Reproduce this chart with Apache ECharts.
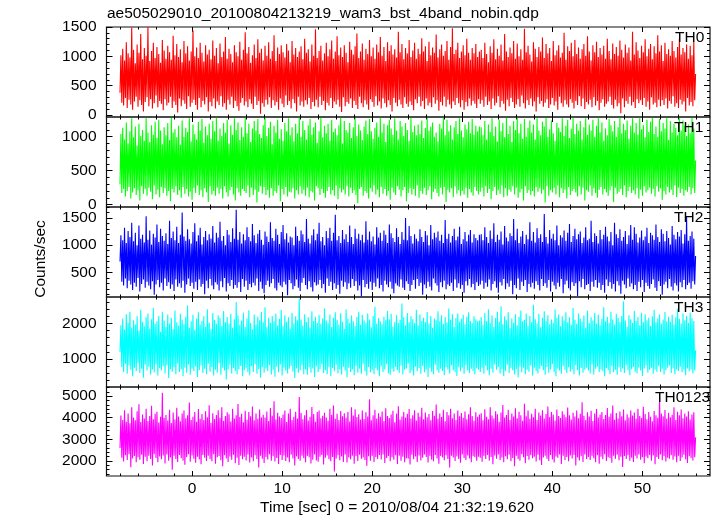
<!DOCTYPE html>
<html>
<head>
<meta charset="utf-8">
<script src="https://cdn.jsdelivr.net/npm/echarts@6.0.0/dist/echarts.min.js"></script>
<style>
html,body{margin:0;padding:0;background:#fff;}
#chart{width:717px;height:516px;}
</style>
</head>
<body>
<div id="chart"></div>
<script>
// ---------- data ----------
const titleText = 'ae505029010_20100804213219_wam3_bst_4band_nobin.qdp';
const xTitle = 'Time [sec] 0 = 2010/08/04 21:32:19.620';
const yTitle = 'Counts/sec';
const bandNames = ['TH0', 'TH1', 'TH2', 'TH3', 'TH0123'];
const timeStart = -8.0;   // first bin [sec]
const timeStep = 0.1;     // bin width [sec]
const xTicks = [0, 10, 20, 30, 40, 50];
const yTicksTH0 = [0, 500, 1000, 1500];
const yTicksTH1 = [0, 500, 1000];
const yTicksTH2 = [500, 1000, 1500];
const yTicksTH3 = [1000, 2000];
const yTicksTH0123 = [2000, 3000, 4000, 5000];

const th0 = [
380,1020,210,1130,160,930,290,1240,120,1050,
260,980,180,1490,90,1110,230,880,310,1200,
140,1060,250,1380,170,950,60,1140,220,1010,
300,1500,150,920,270,1090,110,1230,200,970,
330,1160,130,1040,240,890,190,1280,80,1100,
270,960,160,1180,210,1070,310,940,120,1350,
230,1020,170,1210,40,990,280,1120,150,900,
250,1260,190,1050,100,1170,320,930,140,1080,
210,1440,260,1000,170,1150,90,970,290,1230,
130,1060,240,910,180,1190,300,1030,60,1110,
220,950,150,1270,280,1010,110,1140,230,880,
170,1220,320,990,140,1080,200,1330,90,960,
260,1130,180,1040,310,900,120,1190,240,1070,
150,1000,70,1250,210,940,290,1110,160,1410,
230,1050,130,1160,270,890,190,1020,100,1200,
310,970,170,1290,240,1060,20,1130,200,930,
140,1180,260,1010,180,1240,300,960,120,1090,
250,1360,160,920,220,1150,90,1040,280,1190,
190,1070,130,980,330,1210,170,1100,240,900,
110,1260,270,1030,200,1140,60,990,310,1080,
160,1170,230,950,140,1300,250,1060,180,1120,
290,910,100,1200,220,1010,150,1460,260,970,
130,1090,310,1180,170,930,240,1050,80,1230,
210,1000,160,1120,290,1270,120,960,230,1080,
180,1340,260,1020,140,1150,50,990,300,1190,
150,1060,220,900,190,1250,280,1110,120,1030,
240,1170,170,1390,100,970,310,1080,200,1220,
130,940,250,1130,180,1040,90,1280,270,1000,
220,1150,140,960,320,1200,160,1070,230,1330,
110,1010,280,1160,200,920,130,1240,250,1090,
170,1190,60,1030,290,1120,210,980,150,1420,
260,1070,180,1210,120,950,300,1140,190,1050,
140,1280,230,990,170,1100,80,1230,270,960,
200,1130,310,1040,150,1310,240,1080,100,1170,
280,920,160,1250,210,1020,130,1150,300,1060,
190,1370,250,980,70,1120,220,1200,160,1010,
310,1090,140,1260,260,940,180,1160,110,1480,
230,1040,170,1110,290,1230,200,970,130,1080,
250,1190,90,1020,220,1300,150,1060,280,940,
160,1140,240,1050,190,1210,120,990,270,1080,
190,1110,250,970,140,1230,310,1040,170,900,
230,1170,100,1060,280,1290,160,950,210,1130,
320,1010,130,1200,240,930,190,1380,70,1080,
260,990,150,1150,290,1050,220,1260,120,960,
180,1220,270,1000,140,1120,330,940,200,1470,
110,1070,250,1180,170,1030,280,910,150,1240,
230,1130,60,990,300,1160,190,1080,240,1320,
140,970,210,1210,270,1050,120,1140,180,920,
290,1260,160,1020,230,1100,90,1190,310,980,
200,1060,140,1400,250,940,180,1170,130,1090,
270,1230,210,1000,110,1280,240,1040,170,1150,
320,960,150,1120,280,1210,100,1010,220,1340,
180,1080,260,930,130,1190,300,1070,160,1250,
240,990,80,1140,210,1030,270,1180,140,960,
190,1300,230,1090,310,950,170,1220,110,1040,
260,1160,150,1010,200,1270,30,1110,280,980,
130,1200,240,1060,190,1150,310,930,160,1420,
220,1030,120,1240,270,1100,200,970,250,1180,
170,1070,290,1290,140,1000,230,1130,90,1210,
300,950,180,1170,210,1050,130,1360,260,1080,
150,1190,250,920,170,1230,280,1040,110,1120,
240,1010,190,1260,320,1090,140,980,200,1160,
120,1310,260,1030,180,1140,230,1070,60,1200,
290,960,160,1180,220,1020,150,1250,250,700
];
const th1 = [
300,1040,170,1130,230,960,120,1210,200,900,
260,1080,90,1270,180,990,240,1150,140,870,
210,1190,60,1010,270,1100,160,940,230,1280,
130,1060,250,920,190,1170,80,1030,280,1220,
150,980,220,1250,110,1090,260,890,170,1140,
240,1020,130,1200,200,950,50,1280,230,1060,
180,1110,270,990,140,1160,210,880,100,1240,
260,1000,160,1130,230,1070,120,1270,190,930,
70,1180,250,1040,170,960,280,1220,140,1090,
210,1260,110,910,240,1150,180,1020,40,1190,
270,970,150,1230,200,1080,130,1280,250,940,
160,1120,230,1010,90,1200,270,1060,180,1250,
120,900,210,1170,260,1030,150,1270,60,1100,
240,1210,180,950,130,1140,230,1000,200,1280,
170,1050,280,1190,110,920,250,1120,140,1230,
220,1090,30,1260,190,1040,270,980,160,1170,
260,1280,140,1010,210,1130,100,1220,240,890,
130,1160,200,1060,170,1250,280,970,50,1110,
230,940,150,1200,260,1080,120,1270,190,1020,
180,1140,240,930,90,1190,210,1050,150,1280,
270,1000,160,1230,220,1100,130,960,250,1170,
110,1260,200,1030,180,1140,60,1210,270,910,
240,1080,140,1280,230,990,170,1160,100,1050,
200,1190,260,940,150,1250,210,1070,130,1120,
280,1020,80,1170,240,1280,180,900,220,1230,
150,1100,270,1060,120,1200,250,980,170,1140,
210,1270,140,1010,20,1180,230,1090,260,950,
130,1150,200,1240,170,1040,90,1260,240,1080,
190,970,280,1130,150,1210,220,1000,110,1280,
260,1060,160,1190,230,920,130,1170,200,1250,
70,1120,250,1030,180,1270,140,1090,270,960,
220,1230,120,1150,210,1010,260,1200,50,1100,
170,940,240,1280,150,1070,230,1160,130,1020,
280,1180,100,1040,200,1240,160,980,250,1130,
140,1270,210,1090,270,1150,80,1210,190,1000,
230,1060,170,930,120,1190,250,1120,150,1280,
260,1020,40,1250,220,1080,180,1170,240,960,
110,1140,270,1230,160,1040,210,1270,130,1090,
200,990,150,1180,250,1110,100,1220,230,1050,
180,1260,130,1030,260,1160,200,1080,150,1150,
190,1140,250,1020,120,1230,270,960,170,1180,
230,1070,80,1270,200,1010,260,1150,140,930,
210,1250,160,1080,280,1200,110,990,240,1280,
130,1040,220,1160,190,920,270,1230,150,1100,
250,1280,100,1050,180,1190,230,970,60,1260,
270,1000,170,1130,210,1240,140,1060,200,1180,
120,960,260,1270,190,1090,240,1020,160,1220,
220,1150,30,1280,270,1000,130,1110,210,1240,
180,1050,250,940,150,1200,280,1130,110,1070,
240,1270,170,1010,220,1160,90,1250,260,980,
140,1120,200,1280,230,1040,180,1190,120,1090,
270,1230,150,960,250,1140,60,1270,210,1030,
190,1180,280,1090,130,1250,240,1000,170,1160,
100,1280,220,1060,260,1210,150,940,230,1120,
180,1020,130,1260,210,1170,270,1080,40,1230,
250,1000,160,1140,190,1280,230,1050,140,1190,
280,1100,110,1240,200,970,260,1160,170,1270,
210,1060,150,1200,240,1030,90,1280,220,1110,
130,1170,270,990,180,1250,210,1070,250,1220,
160,1280,230,1040,120,1150,270,1000,190,1260,
240,1080,70,1200,200,1120,150,1280,260,950,
180,1230,220,1060,140,1190,280,1130,110,1020,
250,1270,170,1090,230,1240,130,1160,210,1010,
190,1180,260,1050,150,1280,240,1120,170,650
];
const th2 = [
700,1180,330,1090,260,1320,390,1040,210,1260,
350,1150,280,1410,180,1070,310,1230,240,1000,
400,1360,150,1120,290,1190,370,1050,220,1530,
330,1100,260,1270,190,1010,340,1210,90,1140,
280,1380,360,1060,230,1300,310,1170,170,1080,
390,1220,250,1020,320,1450,200,1130,280,1250,
160,1090,370,1340,240,1040,300,1190,220,1600,
350,1160,130,1080,280,1290,390,1110,250,1030,
310,1240,200,1400,330,1070,180,1180,370,1320,
240,1010,290,1150,100,1260,350,1090,210,1200,
380,1120,260,1350,190,1050,320,1230,280,1140,
170,1430,340,1080,230,1170,400,1000,150,1280,
300,1190,250,1060,360,1310,200,1120,270,1650,
220,1100,320,1240,140,1030,380,1200,240,1090,
350,1330,180,1150,290,1070,230,1390,310,1180,
260,1040,390,1210,160,1280,330,1100,200,1010,
120,1250,270,1160,350,1060,240,1420,300,1130,
380,1080,210,1300,170,1190,310,1020,260,1240,
230,1370,330,1110,280,1220,80,1050,360,1160,
300,1140,190,1000,250,1340,370,1170,220,1080,
160,1270,310,1200,400,1060,270,1480,190,1120,
340,1030,230,1180,150,1290,320,1090,260,1210,
280,1410,360,1070,210,1150,290,1000,130,1260,
390,1130,250,1320,330,1080,180,1230,300,1560,
200,1090,270,1170,110,1040,350,1280,240,1110,
320,1200,190,1060,300,1360,220,1150,380,1020,
250,1300,340,1120,170,1210,260,1090,60,1190,
360,1050,230,1440,290,1100,200,1250,330,1070,
180,1160,310,1010,240,1330,390,1140,210,1230,
270,1080,150,1270,350,1190,280,1040,230,1380,
330,1220,200,1130,120,1060,300,1310,260,1150,
240,1020,370,1240,220,1100,180,1500,340,1090,
290,1350,160,1170,270,1030,360,1200,200,1120,
380,1070,250,1290,310,1150,90,1060,280,1260,
210,1180,330,1000,240,1370,170,1110,390,1230,
300,1140,260,1250,140,1080,320,1190,230,1040,
350,1460,190,1120,280,1210,250,1050,310,1170,
160,1300,370,1090,220,1160,300,1340,200,1020,
270,1110,130,1240,340,1070,260,1190,380,1280,
230,1050,290,1200,180,1130,320,1090,250,1190,
280,1200,350,1090,200,1330,310,1150,240,1040,
370,1270,170,1120,290,1400,340,1060,220,1190,
130,1100,320,1250,260,1010,380,1350,190,1140,
300,1070,240,1220,350,1170,100,1480,270,1090,
210,1300,390,1040,180,1160,330,1260,250,1020,
360,1190,140,1110,290,1420,230,1080,310,1240,
200,1050,340,1310,270,1130,170,1200,380,1060,
250,1570,300,1150,220,1030,360,1280,150,1120,
330,1210,260,1090,190,1360,310,1000,240,1180,
380,1140,120,1270,280,1080,350,1230,210,1390,
170,1060,320,1170,250,1300,300,1110,70,1200,
340,1250,230,1040,380,1140,190,1330,270,1090,
290,1120,160,1450,330,1060,240,1220,360,1170,
220,1030,310,1280,180,1110,270,1190,130,1340,
370,1160,250,1070,320,1240,200,1000,290,1410,
150,1200,340,1130,260,1290,110,1080,350,1150,
280,1260,210,1020,390,1180,240,1370,300,1100,
190,1330,270,1210,160,1050,330,1140,230,1270,
360,1090,140,1160,310,1320,250,1040,200,1230,
290,1180,370,1100,220,1380,160,1150,340,1060,
250,1290,90,1210,280,1070,330,1260,210,1130,
380,1010,240,1350,170,1190,300,1110,260,1240,
150,1160,320,1280,230,1030,360,1200,190,1520,
270,1080,310,1170,200,1250,340,1120,280,800
];
const th3 = [
1200,1950,780,2140,640,1830,870,2260,590,2010,
820,2330,700,1880,520,2090,760,1970,660,2200,
900,1800,610,2380,730,2050,480,1920,840,2170,
680,2280,790,1860,570,2120,710,2440,630,1990,
860,2060,540,2210,750,1770,690,2330,800,2080,
600,1900,830,2250,470,2000,720,2150,650,1840,
770,2360,580,2030,880,1940,640,2270,710,2110,
530,1980,760,2190,620,2500,850,1870,560,2060,
740,2240,670,1820,790,2130,500,2310,690,1960,
820,2070,610,2200,730,1910,580,2400,870,2020,
650,1850,780,2290,540,2100,700,1990,620,2230,
890,2160,560,1930,760,2350,680,2040,430,2180,
710,2000,840,2270,600,1880,750,2120,660,2600,
580,2220,720,1960,810,2080,520,2300,690,1900,
760,2140,630,2370,550,2010,800,1840,640,2250,
860,1970,590,2190,720,2090,480,2320,770,2030,
620,2450,740,1890,670,2160,830,2020,570,2210,
700,2060,510,2280,790,1950,630,2130,850,2380,
540,1920,760,2230,680,2050,600,2170,730,1860,
810,2300,650,2000,470,2200,740,2090,620,2700,
690,2110,830,1940,580,2260,710,2040,560,2170,
770,1880,620,2340,740,2070,500,2190,800,2010,
640,2230,720,1990,860,2140,610,2420,690,2080,
580,2020,780,2250,530,1900,750,2160,660,2310,
840,2100,600,1970,720,2290,570,2050,790,1850,
680,2390,490,2130,760,2010,640,2220,710,2060,
550,1930,810,2180,620,2330,730,1960,590,2240,
870,2080,660,2020,540,2280,780,2110,630,1890,
700,2210,580,2470,750,2000,680,2150,520,2060,
800,1980,640,2190,710,2090,860,2350,600,2120,
560,2270,730,1910,650,2040,780,2230,690,2010,
620,2100,820,2560,570,2170,700,1950,740,2290,
880,2030,610,2200,680,2120,540,2010,790,2380,
660,1940,750,2250,590,2070,810,2160,630,2040,
720,2320,500,2000,760,2210,650,1870,580,2140,
840,2090,690,2340,620,2060,730,2230,670,1990,
550,2180,780,2030,710,2420,600,2100,820,2260,
690,1900,640,2150,530,2280,770,2050,660,2130,
760,2240,590,1980,830,2190,680,2310,610,2070,
730,2010,670,2200,570,2120,740,2060,700,2080,
640,2180,760,1960,590,2290,810,2070,690,2400,
550,2010,730,2220,620,1900,850,2150,700,2330,
780,2050,600,2480,720,1980,530,2200,660,2090,
840,2310,610,1870,750,2140,690,2020,570,2260,
720,1950,490,2190,800,2360,630,2060,760,2100,
580,2280,700,1930,650,2210,820,2040,540,2520,
760,2120,670,2000,600,2270,730,1890,810,2160,
690,2340,560,2070,780,2230,620,1980,710,2110,
860,2020,640,2390,520,2150,740,2250,680,1920,
590,2200,800,2080,700,2310,610,2030,770,2170,
650,1960,720,2430,580,2100,830,1990,690,2280,
540,2140,750,2050,620,2220,700,1880,760,2360,
680,2010,600,2170,850,2080,570,2290,730,2000,
790,2240,640,1940,710,2130,660,2450,520,2060,
750,2190,690,2020,580,2330,810,2110,630,1970,
700,2270,560,2150,770,2040,640,2210,740,2620,
610,2080,830,1910,690,2230,550,2120,720,2010,
780,2350,650,2070,600,2180,760,1950,680,2300,
530,2040,740,2260,820,2090,620,2160,700,1930,
760,2200,590,2380,710,2030,650,2140,800,2250,
640,1990,730,2110,570,2320,690,2060,760,2190,
820,2050,610,2240,740,1960,580,2170,700,2410,
670,2130,790,2000,630,2280,720,2090,550,2210,
740,2020,660,2300,710,2150,600,2070,680,1250
];
const th0123 = [
2600,4100,2150,3900,1980,4350,2270,3820,2050,4200,
2310,3750,1720,4480,2120,4010,2230,3880,1950,4300,
2180,4620,2060,3800,2290,4150,1870,3960,2200,4420,
1990,3850,2250,4080,2100,4550,1800,3930,2320,4180,
2140,4280,1940,3780,2210,4040,2080,5150,2260,3990,
1890,4130,2300,3870,2010,4370,2170,3760,1600,4240,
2240,3920,2090,4460,1960,4060,2280,3840,2130,4190,
2020,4330,1830,3980,2190,4110,2310,4700,1970,3890,
2260,4050,2110,4260,1920,3810,2200,4400,2070,3950,
1850,4170,2280,3900,2150,4300,2000,4020,2240,4580,
2100,3770,1990,4210,2320,3940,1880,4130,2180,4350,
2230,4000,2040,4490,1760,3860,2270,4080,2120,4250,
1960,4160,2210,3830,2060,4410,2290,3970,1900,4110,
2150,4640,1820,4030,2250,4180,2080,3790,2200,4320,
2030,3910,2300,4270,1930,4070,2160,4520,1990,3880,
2270,4200,2090,3950,1700,4380,2240,4010,2110,4140,
1910,4010,2190,4290,2070,3850,2310,4450,2020,4090,
2220,4760,1980,3920,2140,4230,1860,4060,2280,3990,
2050,4150,2260,4340,2000,3800,2170,4190,1940,4420,
2290,3890,2120,4040,1800,4280,2210,3970,2090,4960,
2010,4220,2250,3930,2130,4120,1950,4360,2240,3870,
2180,4050,1890,4500,2060,4170,2300,3810,2030,4270,
1970,4330,2200,3980,2280,4090,1840,4230,2150,4010,
2260,3860,2080,4410,1990,4140,2190,4570,1520,3950,
2120,4180,2270,3900,2040,4310,2210,4070,1960,4210,
2300,4000,1930,4260,2160,3830,2080,4480,2250,4100,
1880,4390,2230,4030,2000,4160,2290,3920,2110,4340,
2170,3940,2050,4250,1780,4060,2220,4850,2020,3880,
2240,4120,1960,4370,2190,3960,2100,4210,2280,4040,
2070,4290,2300,3850,1910,4440,2140,4080,2230,3990,
1990,4150,2180,4320,2060,3790,2270,4190,1870,4530,
2250,3910,2010,4060,2200,4270,1950,4010,2130,4180,
2110,4400,1840,3960,2290,4120,2080,4350,2210,3870,
1960,4230,2260,4050,2030,4460,2150,3930,2300,4240,
2190,4020,1930,4170,2240,3880,2060,4310,1990,4090,
2280,4610,2120,3950,1880,4200,2230,4030,2170,4370,
2040,3840,2270,4260,2100,4110,1700,4420,2250,3980,
2160,4190,2000,3900,2210,4340,2090,4070,1920,4220,
2300,4000,2140,4290,2050,3930,2260,4160,2120,4490,
1950,4080,2220,3860,2180,4250,2010,4040,2200,4150,
2150,4210,1970,3880,2240,4390,2090,4050,2280,3930,
2020,4480,2190,4100,1850,3970,2260,4300,2110,4160,
2300,3820,2050,4240,2170,4590,1940,4010,2220,4130,
2080,4370,2290,3900,1990,4200,2140,4060,1760,4440,
2250,3980,2100,4280,2020,4120,2310,3860,2180,4650,
1900,4070,2230,4330,2060,3950,2270,4180,2130,4020,
2200,4410,1980,3890,2290,4240,2040,4100,1820,4350,
2160,3960,2250,4170,2110,4520,2000,4030,2280,4260,
2070,4140,1930,3870,2210,4380,2150,4080,2300,3990,
1870,4300,2240,4150,2050,4020,2190,4470,1990,4110,
2260,3920,2120,4230,2280,4060,1800,4340,2170,3980,
2030,4180,2220,4710,1960,4090,2300,3900,2100,4250,
2190,4060,2050,4320,2240,3850,2130,4200,1950,4400,
2270,4010,1880,4150,2200,4270,2080,3940,2310,4130,
2000,4450,2180,4040,2140,4190,1920,4560,2250,3910,
2110,4220,2290,3970,2040,4290,2200,4070,1730,4380,
2230,3880,2090,4160,2270,4010,2010,4330,2150,4100,
1960,4240,2240,3950,2120,4420,2300,4080,2060,3990,
2180,4510,1900,4170,2210,3930,2130,4260,2280,4050,
2020,3840,2260,4310,1850,4120,2190,4000,2090,4900,
2300,4190,2040,4070,2230,4360,1980,3960,2150,4230,
2110,4020,2270,4140,2060,4490,2210,3900,1940,4280,
2250,4110,2000,4380,2170,3980,2290,4200,2070,4060,
1910,4300,2220,3920,2140,4150,2030,4250,2180,3100
];

// ---------- layout / style ----------
const FONT = '"Liberation Sans", Arial, Helvetica, sans-serif';
const bands = [th0, th1, th2, th3, th0123];
const yTicks = [yTicksTH0, yTicksTH1, yTicksTH2, yTicksTH3, yTicksTH0123];
const colors = ['#ff0000', '#00ff00', '#0000ff', '#00ffff', '#ff00ff'];
const yMins = [-35, -35, 50, 220, 1310];
const yMaxs = [1500, 1290, 1700, 2740, 5420];
const yMinorStep = [100, 100, 100, 200, 200];
const tops = [27, 117, 207, 297, 387];
const heights = [90, 90, 90, 90, 89];
const labelLeft = [675, 674, 674, 674, 655];
const X_MIN = -9.5, X_MAX = 57.5;

function minorValues(lo, hi, step, majors) {
  const out = [];
  const start = Math.ceil(lo / step) * step;
  for (let v = start; v <= hi + 1e-9; v += step) {
    const r = Math.round(v * 1000) / 1000;
    if (majors.indexOf(r) < 0) out.push(r);
  }
  return out;
}
const xMinor = minorValues(-9, 57, 2, xTicks);

const grids = [], xAxes = [], yAxes = [], series = [], graphics = [];
const tickLine = { color: '#000', width: 1 };
const noLine = { show: false, onZero: false };
const plain = v => String(v);

for (let i = 0; i < 5; i++) {
  grids.push({ left: 106.5, width: 603.5, top: tops[i], height: heights[i],
    show: true, borderColor: '#111', borderWidth: 1.2, backgroundColor: 'transparent', containLabel: false });

  const xb = { type: 'value', gridIndex: i, min: X_MIN, max: X_MAX, splitLine: { show: false }, axisLine: noLine };
  const xIdx = xAxes.length;
  xAxes.push(Object.assign({}, xb, { position: 'bottom',
    axisTick: { show: true, inside: true, length: 5, customValues: xTicks, lineStyle: tickLine },
    axisLabel: { show: i === 4, customValues: xTicks, formatter: plain, margin: 5, fontSize: 15.5, color: '#000', fontFamily: FONT } }));
  xAxes.push(Object.assign({}, xb, { position: 'bottom',
    axisTick: { show: true, inside: true, length: 2.5, customValues: xMinor, lineStyle: tickLine },
    axisLabel: { show: false } }));
  xAxes.push(Object.assign({}, xb, { position: 'top',
    axisTick: { show: true, inside: true, length: 5, customValues: xTicks, lineStyle: tickLine },
    axisLabel: { show: false } }));
  xAxes.push(Object.assign({}, xb, { position: 'top',
    axisTick: { show: true, inside: true, length: 2.5, customValues: xMinor, lineStyle: tickLine },
    axisLabel: { show: false } }));

  const ymin = minorValues(yMins[i], yMaxs[i], yMinorStep[i], yTicks[i]);
  const yb = { type: 'value', gridIndex: i, min: yMins[i], max: yMaxs[i], splitLine: { show: false }, axisLine: noLine };
  const yIdx = yAxes.length;
  yAxes.push(Object.assign({}, yb, { position: 'left',
    axisTick: { show: true, inside: true, length: 6, customValues: yTicks[i], lineStyle: tickLine },
    axisLabel: { show: true, customValues: yTicks[i], formatter: plain, margin: 10, fontSize: 15.5, color: '#000', fontFamily: FONT } }));
  yAxes.push(Object.assign({}, yb, { position: 'left',
    axisTick: { show: true, inside: true, length: 3, customValues: ymin, lineStyle: tickLine },
    axisLabel: { show: false } }));
  yAxes.push(Object.assign({}, yb, { position: 'right',
    axisTick: { show: true, inside: true, length: 6, customValues: yTicks[i], lineStyle: tickLine },
    axisLabel: { show: false } }));
  yAxes.push(Object.assign({}, yb, { position: 'right',
    axisTick: { show: true, inside: true, length: 3, customValues: ymin, lineStyle: tickLine },
    axisLabel: { show: false } }));

  series.push({
    type: 'line', name: bandNames[i], xAxisIndex: xIdx, yAxisIndex: yIdx,
    data: bands[i].map((v, k) => [timeStart + k * timeStep, v]),
    showSymbol: false, symbol: 'none', sampling: false, clip: true,
    lineStyle: { color: colors[i], width: 1.1 }, z: 1
  });

  graphics.push({ type: 'text', left: labelLeft[i], top: tops[i] + 3,
    style: { text: bandNames[i], font: '15.5px ' + FONT, fill: '#000' }, z: 10 });
}

graphics.push({ type: 'text', left: 107, top: 6,
  style: { text: titleText, font: '15.5px ' + FONT, fill: '#000' } });
graphics.push({ type: 'text', x: 397, y: 508,
  style: { text: xTitle, font: '15.5px ' + FONT, fill: '#000', align: 'center', verticalAlign: 'middle' } });
graphics.push({ type: 'text', x: 41, y: 259, rotation: Math.PI / 2,
  style: { text: yTitle, font: '15.5px ' + FONT, fill: '#000', align: 'center', verticalAlign: 'middle' } });

const chart = echarts.init(document.getElementById('chart'));
chart.setOption({
  animation: false,
  backgroundColor: '#fff',
  grid: grids, xAxis: xAxes, yAxis: yAxes, series: series, graphic: graphics
});
</script>
</body>
</html>
